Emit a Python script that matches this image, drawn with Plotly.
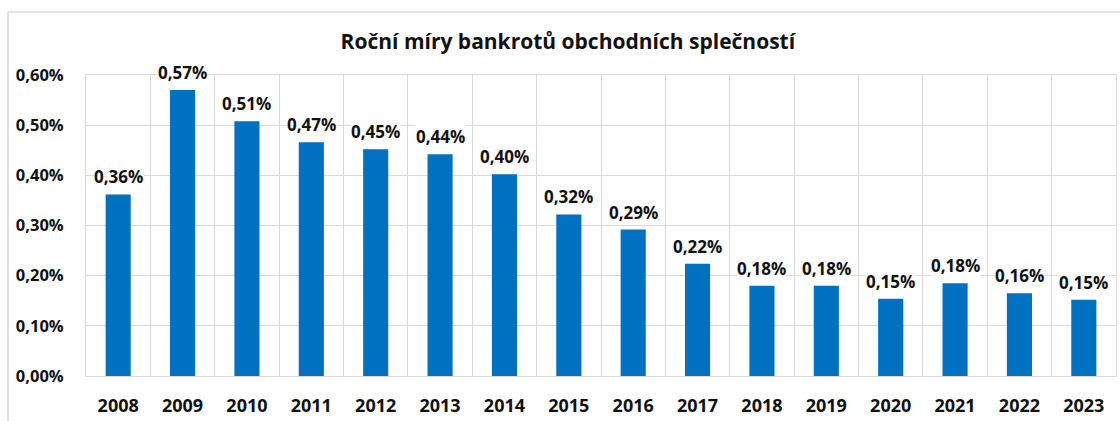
import plotly.graph_objects as go

years = ["2008", "2009", "2010", "2011", "2012", "2013", "2014", "2015",
         "2016", "2017", "2018", "2019", "2020", "2021", "2022", "2023"]
rates = [0.0036, 0.0057, 0.0051, 0.0047, 0.0045, 0.0044, 0.0040, 0.0032,
         0.0029, 0.0022, 0.0018, 0.0018, 0.0015, 0.0018, 0.0016, 0.0015]
# heights as drawn (slightly more precise than the rounded labels)
drawn = [0.00362, 0.00570, 0.00508, 0.00466, 0.00452, 0.00442, 0.00402, 0.00322,
         0.00292, 0.00224, 0.00180, 0.00180, 0.00154, 0.00185, 0.00165, 0.00152]
labels = [f"<b>{v*100:.2f}%</b>".replace(".", ",") for v in rates]

FONT = "Open Sans"
grid = "#D9D9D9"
ink = "#111111"

fig = go.Figure(go.Bar(
    x=years, y=drawn,
    marker=dict(color="#0070C0", line=dict(width=0)),
    width=0.39, hoverinfo="skip",
))

# data labels (white background hides the gridlines behind the text);
# on a category axis annotation x is the category index
for i, (val, lab) in enumerate(zip(drawn, labels)):
    fig.add_annotation(
        x=i, y=val, xref="x", yref="y", text=lab, showarrow=False,
        xanchor="center", yanchor="bottom", yshift=5,
        bgcolor="white", borderpad=0,
        font=dict(family=FONT, size=17, color=ink),
    )

fig.update_layout(
    width=1120, height=421,
    margin=dict(l=86, r=4, t=75, b=45, autoexpand=False),
    paper_bgcolor="white", plot_bgcolor="white",
    separators=", ",
    showlegend=False,
    title=dict(text="<b>Roční míry bankrotů obchodních splečností</b>",
               x=0.507, xref="container", xanchor="center",
               y=0.90, yref="container", yanchor="middle",
               font=dict(family=FONT, size=21, color=ink)),
    font=dict(family=FONT, color=ink),
)

fig.update_xaxes(
    type="category", range=[-0.5, len(years) - 0.5],
    tickson="boundaries", showgrid=True, gridcolor=grid,
    gridwidth=1, showline=True, mirror=True, linecolor=grid, linewidth=1,
    ticks="", ticklabelstandoff=13, automargin=False, tickangle=0,
    tickfont=dict(family=FONT, size=18, color=ink),
    tickprefix="<b>", ticksuffix="</b>",
)
fig.update_yaxes(
    range=[0, 0.006], dtick=0.001, tickformat=".2%",
    showgrid=True, gridcolor=grid, gridwidth=1,
    showline=True, mirror=True, linecolor=grid, linewidth=1,
    zeroline=False, ticks="", ticklabelstandoff=18, automargin=False,
    tickfont=dict(family=FONT, size=16.5, color=ink),
    tickprefix="<b>", ticksuffix="</b>",
)

# outer chart border (top and left visible in the reference)
fig.add_shape(type="line", xref="paper", yref="paper",
              x0=-0.0757, x1=1.01, y0=1.209, y1=1.209,
              line=dict(color=grid, width=1.5))
fig.add_shape(type="line", xref="paper", yref="paper",
              x0=-0.0757, x1=-0.0757, y0=1.209, y1=-0.2,
              line=dict(color=grid, width=1.5))

fig.write_html("out.html", config={"displayModeBar": False},
               post_script="document.body.style.margin='0';")
